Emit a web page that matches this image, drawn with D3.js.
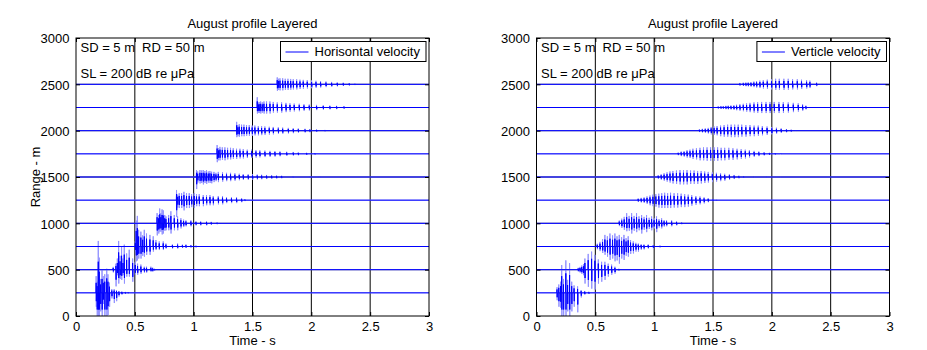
<!DOCTYPE html>
<html>
<head>
<meta charset="utf-8">
<script src="https://cdn.jsdelivr.net/npm/d3@7"></script>
<style>
  body { margin: 0; background: #fff; }
  text { font-family: "Liberation Sans", Arial, Helvetica, sans-serif; font-size: 13px; fill: #000; }
</style>
</head>
<body>
<svg id="chart" width="927" height="350"></svg>
<script>
// Receiver ranges (m) — one trace per range
const ranges = [250, 500, 750, 1000, 1250, 1500, 1750, 2000, 2250, 2500];

// Axis ticks
const xTicks = [0, 0.5, 1, 1.5, 2, 2.5, 3];
const xTickLabels = ["0", "0.5", "1", "1.5", "2", "2.5", "3"];
const yTicks = [0, 500, 1000, 1500, 2000, 2500, 3000];
const yTickLabels = ["0", "500", "1000", "1500", "2000", "2500", "3000"];

// Texts
const panelTitles = ["August profile Layered", "August profile Layered"];
const legendLabels = ["Horisontal velocity", "Verticle velocity"];
const sourceLabel = "SD = 5 m";
const receiverLabel = "RD = 50 m";
const levelLabel = "SL = 200 dB re \u03bcPa";
const xLabel = "Time - s";
const yLabel = "Range - m";

// Horizontal velocity arrivals: [time s, peak above trace (m), trough below trace (m)]
const h250 = [[0.172,180,-150],[0.180,120,-300],[0.190,560,-300],[0.198,380,-300],[0.210,150,-200],[0.222,250,-300],[0.232,180,-120],[0.245,200,-300],[0.262,260,-300],[0.272,200,-240],[0.285,110,-150],[0.305,40,-60],[0.325,40,-110],[0.345,30,-90],[0.365,20,-40],[0.39,15,-20],[0.42,10,-10],[0.445,8,-6]];
const h500 = [[0.317,30,-30],[0.34,65,-180],[0.352,120,-60],[0.363,310,-150],[0.375,150,-100],[0.388,250,-110],[0.40,120,-60],[0.411,270,-150],[0.431,175,-75],[0.453,215,-75],[0.482,120,-130],[0.504,85,-55],[0.524,65,-55],[0.552,55,-45],[0.581,32,-32],[0.60,32,-32],[0.637,32,-22],[0.652,22,-22],[0.668,10,-10]];
const h750 = [[0.505,60,-60],[0.512,280,-160],[0.522,330,-150],[0.533,180,-130],[0.552,160,-130],[0.567,120,-100],[0.581,180,-110],[0.60,140,-90],[0.629,125,-90],[0.657,110,-55],[0.68,70,-38],[0.708,55,-38],[0.742,55,-38],[0.765,32,-22],[0.82,22,-22],[0.864,32,-22],[0.905,20,-15],[0.935,22,-16],[0.977,16,-11],[1.02,10,-10]];
const h1000 = [[0.69,110,-130],[0.703,90,-110],[0.712,160,-90],[0.722,110,-90],[0.732,150,-120],[0.742,140,-110],[0.755,90,-80],[0.765,75,-75],[0.788,90,-75],[0.807,130,-110],[0.836,90,-75],[0.864,75,-75],[0.892,55,-55],[0.915,40,-40],[0.935,32,-32],[0.977,32,-32],[1.02,22,-22],[1.06,22,-22],[1.11,22,-22],[1.15,16,-16],[1.20,10,-10],[1.22,6,-6]];
const h1250 = [[0.855,110,-180],[0.865,60,-80],[0.878,75,-85],[0.898,75,-85],[0.918,90,-110],[0.94,75,-85],[0.963,75,-85],[0.983,65,-75],[1.005,75,-85],[1.025,65,-65],[1.048,65,-65],[1.082,55,-65],[1.11,55,-55],[1.139,55,-55],[1.167,45,-55],[1.21,45,-45],[1.246,45,-45],[1.28,32,-32],[1.322,32,-32],[1.365,32,-32],[1.408,22,-22],[1.436,10,-10]];
const h1500 = [[1.025,75,-130],[1.035,60,-60],[1.054,75,-70],[1.068,70,-65],[1.082,75,-80],[1.096,65,-65],[1.11,75,-75],[1.125,60,-60],[1.139,65,-65],[1.153,57,-68],[1.173,55,-55],[1.19,45,-45],[1.21,55,-55],[1.246,50,-50],[1.28,45,-45],[1.314,45,-45],[1.351,40,-40],[1.388,35,-35],[1.422,32,-32],[1.464,30,-30],[1.501,28,-28],[1.541,26,-26],[1.578,24,-24],[1.62,22,-22],[1.663,20,-20],[1.705,18,-18],[1.748,14,-14],[1.847,6,-6],[1.988,5,-5],[2.07,4,-4]];
const h1750 = [[1.20,95,-90],[1.212,60,-70],[1.224,75,-70],[1.244,70,-65],[1.266,70,-70],[1.289,65,-60],[1.314,65,-60],[1.337,60,-55],[1.365,55,-55],[1.394,55,-50],[1.422,50,-50],[1.456,45,-45],[1.493,45,-45],[1.53,40,-40],[1.563,38,-38],[1.606,35,-35],[1.649,32,-32],[1.691,30,-30],[1.734,26,-26],[1.791,22,-22],[1.847,20,-20],[1.89,16,-16],[1.96,12,-12],[2.031,8,-8]];
const h2000 = [[1.366,95,-70],[1.376,60,-60],[1.388,70,-65],[1.408,65,-60],[1.428,65,-60],[1.45,60,-55],[1.473,60,-55],[1.498,55,-55],[1.521,55,-50],[1.55,50,-50],[1.578,48,-48],[1.606,45,-45],[1.643,42,-42],[1.677,40,-40],[1.72,36,-36],[1.757,33,-33],[1.805,30,-30],[1.847,27,-27],[1.89,24,-24],[1.947,20,-20],[1.988,17,-17],[2.045,13,-13],[2.116,8,-8]];
const h2250 = [[1.541,110,-65],[1.55,50,-55],[1.557,60,-60],[1.57,65,-65],[1.584,55,-55],[1.598,65,-65],[1.62,65,-65],[1.649,65,-65],[1.677,60,-55],[1.711,55,-55],[1.748,55,-55],[1.785,50,-50],[1.819,45,-45],[1.855,42,-42],[1.898,40,-40],[1.938,35,-35],[1.983,32,-32],[2.045,28,-28],[2.102,24,-24],[2.158,20,-20],[2.215,18,-18],[2.278,14,-14]];
const h2500 = [[1.711,75,-70],[1.722,60,-60],[1.734,65,-65],[1.757,65,-65],[1.779,60,-60],[1.802,60,-60],[1.825,58,-58],[1.847,55,-55],[1.876,55,-55],[1.904,50,-50],[1.932,48,-48],[1.966,45,-45],[2.003,42,-42],[2.04,38,-38],[2.079,35,-35],[2.125,30,-30],[2.173,26,-26],[2.221,22,-22],[2.272,18,-18],[2.323,14,-14],[2.371,8,-8]];

// Vertical velocity arrivals: [time s, peak above trace (m), trough below trace (m)]
const v250 = [[0.175,60,-80],[0.19,90,-150],[0.205,120,-160],[0.215,300,-300],[0.23,150,-300],[0.25,350,-300],[0.265,140,-200],[0.282,320,-300],[0.30,120,-200],[0.32,80,-150],[0.35,70,-210],[0.38,30,-50],[0.41,20,-20],[0.445,12,-12]];
const v500 = [[0.355,20,-20],[0.37,30,-30],[0.385,45,-45],[0.40,60,-60],[0.412,120,-150],[0.44,170,-185],[0.469,195,-205],[0.497,160,-215],[0.526,110,-150],[0.554,85,-130],[0.582,85,-110],[0.61,65,-75],[0.639,55,-55],[0.667,32,-43],[0.70,10,-10]];
const v750 = [[0.517,30,-30],[0.54,50,-50],[0.562,80,-70],[0.582,125,-90],[0.603,110,-110],[0.625,140,-145],[0.647,120,-130],[0.667,140,-160],[0.685,110,-150],[0.704,125,-185],[0.724,100,-130],[0.744,125,-145],[0.762,90,-100],[0.78,110,-110],[0.80,70,-80],[0.823,55,-75],[0.845,40,-55],[0.866,32,-55],[0.89,25,-35],[0.914,22,-32],[0.95,22,-22],[0.993,16,-22],[1.05,10,-10]];
const v1000 = [[0.704,30,-30],[0.725,50,-50],[0.746,70,-70],[0.767,110,-85],[0.788,80,-80],[0.809,110,-110],[0.83,80,-80],[0.851,110,-95],[0.872,75,-75],[0.894,90,-110],[0.915,70,-70],[0.936,90,-95],[0.958,60,-60],[0.979,75,-75],[1.00,55,-55],[1.021,75,-95],[1.042,45,-45],[1.064,55,-55],[1.085,35,-35],[1.106,32,-32],[1.149,32,-32],[1.191,22,-22],[1.234,10,-10]];
const v1250 = [[0.865,20,-20],[0.89,25,-25],[0.915,30,-30],[0.94,40,-40],[0.965,50,-55],[0.99,60,-65],[1.015,65,-70],[1.04,70,-80],[1.065,75,-85],[1.09,80,-85],[1.115,75,-85],[1.14,80,-85],[1.17,75,-80],[1.20,75,-80],[1.23,70,-75],[1.26,65,-75],[1.29,60,-70],[1.32,55,-60],[1.355,45,-50],[1.39,40,-45],[1.425,30,-35],[1.46,22,-22],[1.50,12,-12],[1.53,5,-5]];
const v1500 = [[1.035,20,-20],[1.06,30,-30],[1.085,40,-40],[1.11,50,-50],[1.135,60,-60],[1.16,65,-70],[1.19,70,-75],[1.22,75,-80],[1.25,75,-80],[1.28,75,-80],[1.31,70,-75],[1.34,70,-75],[1.37,65,-75],[1.40,65,-70],[1.43,60,-65],[1.46,55,-60],[1.495,50,-55],[1.53,45,-50],[1.565,40,-45],[1.60,35,-40],[1.64,30,-30],[1.68,22,-22],[1.72,15,-15],[1.76,8,-8],[1.85,4,-4],[1.96,4,-4],[2.07,3,-3]];
const v1750 = [[1.205,15,-15],[1.23,25,-25],[1.255,30,-30],[1.28,40,-40],[1.305,45,-45],[1.33,55,-55],[1.36,60,-60],[1.39,65,-70],[1.42,70,-70],[1.45,70,-75],[1.48,70,-75],[1.51,70,-75],[1.54,70,-75],[1.57,65,-70],[1.60,65,-70],[1.635,65,-65],[1.67,60,-65],[1.705,55,-60],[1.74,50,-55],[1.775,45,-50],[1.81,40,-40],[1.85,32,-32],[1.89,25,-25],[1.935,18,-18],[1.98,12,-12],[2.03,8,-8],[2.075,4,-4]];
const v2000 = [[1.385,15,-15],[1.41,20,-20],[1.435,25,-25],[1.46,30,-30],[1.485,40,-40],[1.51,45,-45],[1.535,50,-50],[1.565,55,-60],[1.595,60,-65],[1.625,65,-65],[1.655,65,-70],[1.685,65,-70],[1.715,65,-70],[1.745,65,-65],[1.78,60,-65],[1.815,60,-60],[1.85,55,-60],[1.885,55,-55],[1.92,50,-50],[1.96,45,-45],[2.00,40,-40],[2.04,32,-32],[2.08,25,-25],[2.125,18,-18],[2.165,12,-12],[2.205,6,-6]];
const v2250 = [[1.545,12,-12],[1.568,15,-15],[1.588,15,-15],[1.61,18,-18],[1.63,20,-20],[1.653,22,-22],[1.678,25,-25],[1.701,30,-30],[1.729,35,-35],[1.758,40,-40],[1.786,45,-45],[1.815,50,-50],[1.849,55,-55],[1.88,58,-58],[1.914,60,-60],[1.951,60,-60],[1.985,60,-60],[2.021,60,-60],[2.061,60,-60],[2.098,58,-58],[2.14,55,-55],[2.183,50,-50],[2.225,45,-45],[2.262,35,-35],[2.29,20,-20]];
const v2500 = [[1.729,15,-15],[1.758,18,-18],[1.78,20,-20],[1.80,22,-22],[1.823,25,-25],[1.848,30,-30],[1.871,35,-35],[1.899,40,-40],[1.928,45,-45],[1.962,50,-50],[1.998,55,-55],[2.033,60,-60],[2.064,60,-60],[2.103,60,-60],[2.14,60,-60],[2.177,55,-55],[2.217,55,-55],[2.253,50,-50],[2.296,45,-45],[2.324,40,-40],[2.381,20,-20]];

const horisontalTraces = [h250, h500, h750, h1000, h1250, h1500, h1750, h2000, h2250, h2500];
const verticleTraces = [v250, v500, v750, v1000, v1250, v1500, v1750, v2000, v2250, v2500];

const svg = d3.select("#chart");
svg.append("rect").attr("width", 927).attr("height", 350).attr("fill", "#fff");

const plotTop = 38, plotBottom = 316;
const traceColor = "#0000ff";
const haloColor = "#9292ff";
const coreShare = 0.6;   // dense oscillation core relative to the swing envelope

function drawPanel(id, left, right, traces, title, legendLabel, showYLabel) {
  const x = d3.scaleLinear().domain([0, 3]).range([left, right]);
  const y = d3.scaleLinear().domain([0, 3000]).range([plotBottom, plotTop]);
  const g = svg.append("g");

  g.append("clipPath").attr("id", "clip-" + id)
    .append("rect").attr("x", left).attr("y", plotTop)
    .attr("width", right - left).attr("height", plotBottom - plotTop);

  // grid
  g.append("g").selectAll("line").data(xTicks.slice(1, -1)).join("line")
    .attr("x1", d => x(d)).attr("x2", d => x(d))
    .attr("y1", plotTop).attr("y2", plotBottom)
    .attr("stroke", "#000").attr("stroke-width", 1);
  g.append("g").selectAll("line").data(yTicks.slice(1, -1)).join("line")
    .attr("x1", left).attr("x2", right)
    .attr("y1", d => y(d)).attr("y2", d => y(d))
    .attr("stroke", "#000").attr("stroke-width", 1);

  // traces: each arrival drawn as a short up/down swing about the trace baseline
  const line = d3.line().x(d => x(d[0])).y(d => y(d[1]));
  const tracePoints = (spikes, r, k) => {
    const pts = [[0, r]];
    spikes.forEach(([t, up, down]) => {
      pts.push([t - 0.002, r], [t - 0.0007, r + up * k], [t + 0.0007, r + down * k], [t + 0.002, r]);
    });
    pts.push([3, r]);
    return pts;
  };
  const clipped = g.append("g").attr("clip-path", `url(#clip-${id})`);
  clipped.append("g").selectAll("path")
    .data(traces.map((s, i) => tracePoints(s, ranges[i], 1))).join("path")
    .attr("d", line).attr("fill", "none")
    .attr("stroke", haloColor).attr("stroke-width", 1);
  clipped.append("g").selectAll("path")
    .data(traces.map((s, i) => tracePoints(s, ranges[i], coreShare))).join("path")
    .attr("d", line).attr("fill", "none")
    .attr("stroke", traceColor).attr("stroke-width", 1);

  // axes (ticks inward, on all four sides)
  const xAxisB = d3.axisBottom(x).tickValues(xTicks).tickFormat((d, i) => xTickLabels[i]).tickSizeInner(-4).tickSizeOuter(0).tickPadding(5.5);
  const xAxisT = d3.axisTop(x).tickValues(xTicks).tickFormat("").tickSizeInner(-4).tickSizeOuter(0);
  const yAxisL = d3.axisLeft(y).tickValues(yTicks).tickFormat((d, i) => yTickLabels[i]).tickSizeInner(-4).tickSizeOuter(0).tickPadding(6.5);
  const yAxisR = d3.axisRight(y).tickValues(yTicks).tickFormat("").tickSizeInner(-4).tickSizeOuter(0);

  const gxb = g.append("g").attr("transform", `translate(0,${plotBottom})`).call(xAxisB);
  const gxt = g.append("g").attr("transform", `translate(0,${plotTop})`).call(xAxisT);
  const gyl = g.append("g").attr("transform", `translate(${left},0)`).call(yAxisL);
  const gyr = g.append("g").attr("transform", `translate(${right},0)`).call(yAxisR);
  [gxb, gxt, gyl, gyr].forEach(a => {
    a.select(".domain").remove();
    a.selectAll("text").attr("font-size", 13).attr("font-family", null).style("fill", "#000");
    a.selectAll("line").attr("stroke", "#000");
  });
  gyl.selectAll("text").attr("dy", "0.36em");

  // box
  g.append("rect").attr("x", left).attr("y", plotTop)
    .attr("width", right - left).attr("height", plotBottom - plotTop)
    .attr("fill", "none").attr("stroke", "#000").attr("stroke-width", 1);

  // title and labels
  g.append("text").attr("x", (left + right) / 2).attr("y", 28)
    .attr("text-anchor", "middle").text(title);
  g.append("text").attr("x", (left + right) / 2).attr("y", 345)
    .attr("text-anchor", "middle").text(xLabel);
  if (showYLabel) {
    g.append("text").attr("transform", `translate(40,${(plotTop + plotBottom) / 2}) rotate(-90)`)
      .attr("text-anchor", "middle").text(yLabel);
  }

  // annotations
  g.append("text").attr("x", left + 4.5).attr("y", 51.5).text(sourceLabel);
  g.append("text").attr("x", left + 66).attr("y", 51.5).text(receiverLabel);
  g.append("text").attr("x", left + 4.5).attr("y", 78).text(levelLabel);

  // legend
  const lg = g.append("g");
  const lt = lg.append("text").attr("y", 56).text(legendLabel);
  const tw = lt.node().getComputedTextLength();
  const boxRight = right - 3;
  const boxW = tw + 40;
  const boxLeft = boxRight - boxW;
  lg.insert("rect", "text").attr("x", boxLeft).attr("y", 41.5)
    .attr("width", boxW).attr("height", 20)
    .attr("fill", "#fff").attr("stroke", "#000").attr("stroke-width", 1);
  lg.append("line").attr("x1", boxLeft + 5).attr("x2", boxLeft + 28)
    .attr("y1", 52).attr("y2", 52).attr("stroke", traceColor).attr("stroke-width", 1);
  lt.attr("x", boxLeft + 34);
}

drawPanel("h", 76, 429, horisontalTraces, panelTitles[0], legendLabels[0], true);
drawPanel("v", 536.5, 889.5, verticleTraces, panelTitles[1], legendLabels[1], false);
</script>
</body>
</html>
